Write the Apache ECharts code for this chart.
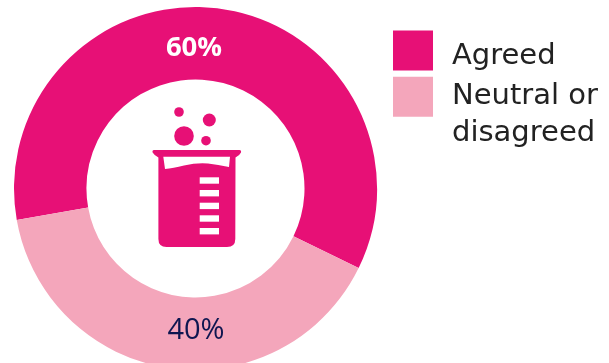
<!DOCTYPE html>
<html>
<head>
<meta charset="utf-8">
<style>html,body{margin:0;padding:0;background:#fff}#c{width:609px;height:363px}</style>
<script src="https://cdn.jsdelivr.net/npm/echarts@6/dist/echarts.min.js"></script>
</head>
<body>
<div id="c"></div>
<script>
const categories = ['Agreed', 'Neutral or\ndisagreed'];
const values = [60, 40];
const colors = ['#E71076', '#F4A6BB'];
const labelColors = ['#ffffff', '#0E1650'];
const labelSizes = [27.5, 29];

const ICON = '#E71076';
echarts.graphic.registerShape('beakerBody', echarts.graphic.extendPath('M154 150 L239.5 150 Q241.5 150 241 152.5 Q240 155 235.5 157.5 L235.3 239 Q235.3 247 227 247 L166.5 247 Q158.4 247 158.4 239 L158.4 157.5 Q154 155 152.6 152.5 Q152 150 154 150 Z'));
echarts.graphic.registerShape('beakerGlass', echarts.graphic.extendPath('M163.3 156.7 L230 156.7 L229 167 Q218 164.5 208 163.5 Q197 162.5 184 165.5 Q173 168 165 169 Z'));

// Beaker with bubbles, shown in the hole of the ring
const circle = (cx, cy, r) => ({ type: 'circle', shape: { cx, cy, r }, style: { fill: ICON } });
const gauge = y => ({ type: 'rect', shape: { x: 199.7, y, width: 19.3, height: 6.4 }, style: { fill: '#fff' } });
const beaker = [
  circle(179, 112, 4.8), circle(209.3, 120, 6.5), circle(184, 136, 9.8), circle(206, 140.7, 4.8),
  { type: 'beakerBody', style: { fill: ICON } },
  { type: 'beakerGlass', style: { fill: '#fff' } },
  gauge(177.3), gauge(190), gauge(202.7), gauge(215.3), gauge(228)
];

const chart = echarts.init(document.getElementById('c'), null, { renderer: 'canvas' });
chart.setOption({
  animation: false,
  legend: {
    left: 388, top: 25, orient: 'vertical', icon: 'rect',
    itemWidth: 40, itemHeight: 40, itemGap: -29,
    selectedMode: false,
    // A leading empty line keeps the first line of a wrapped name level with its swatch
    formatter: name => name.includes('\n') ? '\n' + name : '{one|' + name + '}',
    textStyle: {
      fontFamily: 'DejaVu Sans', fontSize: 29, lineHeight: 36.5, color: '#222222', padding: [0, 0, 0, 14],
      rich: { one: { fontFamily: 'DejaVu Sans', fontSize: 29, lineHeight: 35, color: '#222222', padding: [12, 0, 0, 0] } }
    },
    data: categories
  },
  series: [{
    type: 'pie',
    center: [195.5, 188.5],
    radius: [109, 181.5],
    startAngle: 190,
    clockwise: true,
    silent: true,
    data: categories.map((name, i) => ({
      name, value: values[i],
      itemStyle: { color: colors[i] },
      label: { color: labelColors[i], fontSize: labelSizes[i], fontWeight: i === 0 ? 'bold' : 'normal' }
    })),
    label: {
      position: 'inside', formatter: '{d}%', fontFamily: 'Open Sans'
    },
    labelLine: { show: false },
    labelLayout: p => ({ x: 194 + (p.dataIndex ? 2 : 0), y: p.dataIndex ? 331 : 48, align: 'center', verticalAlign: 'middle' })
  }],
  graphic: [{ type: 'group', silent: true, children: beaker }]
});
</script>
</body>
</html>
